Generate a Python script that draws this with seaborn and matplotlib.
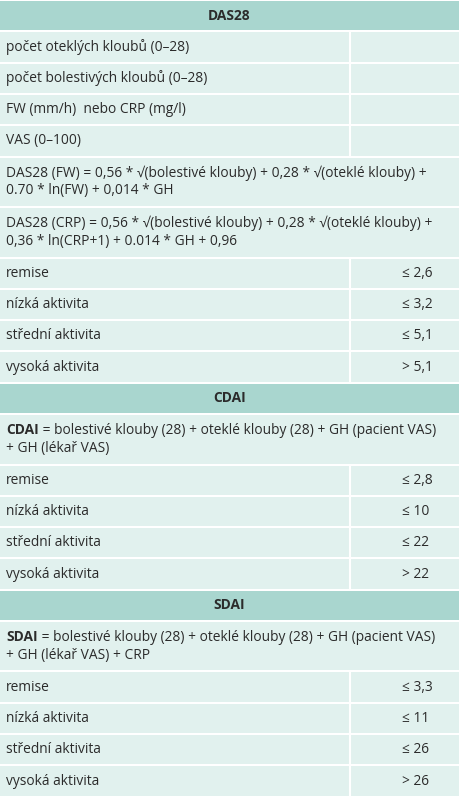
import matplotlib
matplotlib.use("Agg")
import matplotlib.pyplot as plt
import seaborn as sns

# Table content
sections = ["DAS28", "CDAI", "SDAI"]
das28_rows = [
    "počet oteklých kloubů (0–28)",
    "počet bolestivých kloubů (0–28)",
    "FW (mm/h)  nebo CRP (mg/l)",
    "VAS (0–100)",
]
das28_formulas = [
    "DAS28 (FW) = 0,56 * √(bolestivé klouby) + 0,28 * √(oteklé klouby) +\n0.70 * ln(FW) + 0,014 * GH",
    "DAS28 (CRP) = 0,56 * √(bolestivé klouby) + 0,28 * √(oteklé klouby) +\n0,36 * ln(CRP+1) + 0.014 * GH + 0,96",
]
cdai_formula = ("CDAI", " = bolestivé klouby (28) + oteklé klouby (28) + GH (pacient VAS)\n+ GH (lékař VAS)")
sdai_formula = ("SDAI", " = bolestivé klouby (28) + oteklé klouby (28) + GH (pacient VAS)\n+ GH (lékař VAS) + CRP")
activity = ["remise", "nízká aktivita", "střední aktivita", "vysoká aktivita"]
das28_cut = ["≤ 2,6", "≤ 3,2", "≤ 5,1", "> 5,1"]
cdai_cut = ["≤ 2,8", "≤ 10", "≤ 22", "> 22"]
sdai_cut = ["≤ 3,3", "≤ 11", "≤ 26", "> 26"]

sns.set_theme(style="white")
plt.rcParams["font.family"] = ["Open Sans", "DejaVu Sans"]

# build rows: (kind, text, value)
rows = [("head", "DAS28", None)]
rows += [("cell", t, "") for t in das28_rows]
rows += [("wide", t, None) for t in das28_formulas]
rows += [("cell", a, c) for a, c in zip(activity, das28_cut)]
rows += [("head", "CDAI", None), ("bold", cdai_formula, None)]
rows += [("cell", a, c) for a, c in zip(activity, cdai_cut)]
rows += [("head", "SDAI", None), ("bold", sdai_formula, None)]
rows += [("cell", a, c) for a, c in zip(activity, sdai_cut)]

W, H = 468, 800
table_w, split = 459, 350
single, double = 31.3, 50.5
head_c, row_c, text_c = "#a9d6cf", "#e1f1ee", "#2b2b2b"
fs = 9.9

fig = plt.figure(figsize=(W / 100, H / 100), dpi=100)
ax = fig.add_axes([0, 0, 1, 1])
ax.set_xlim(0, W)
ax.set_ylim(H, 0)
ax.axis("off")

y = 0
for kind, text, val in rows:
    h = double if kind in ("wide", "bold") else single
    color = head_c if kind == "head" else row_c
    ax.barh(y + h / 2, table_w, height=h - 2, left=0, color=color, linewidth=0)
    yc = y + h / 2
    if kind == "head":
        ax.text(table_w / 2, yc, text, ha="center", va="center", fontsize=fs,
                fontweight="bold", color=text_c)
    elif kind == "cell":
        ax.plot([split, split], [y, y + h], color="white", lw=1.5)
        ax.text(6, yc, text, ha="left", va="center", fontsize=fs, color=text_c)
        ax.text(split + 52, yc, val, ha="left", va="center", fontsize=fs, color=text_c)
    elif kind == "wide":
        ax.text(6, yc, text, ha="left", va="center", fontsize=fs, color=text_c,
                linespacing=1.25)
    else:
        bold, rest = text
        t = ax.text(6, yc - 9, bold, ha="left", va="center", fontsize=fs,
                    fontweight="bold", color=text_c)
        fig.canvas.draw()
        bb = t.get_window_extent()
        x2 = bb.x1 / fig.dpi * 100
        first, second = rest.split("\n")
        ax.text(x2, yc - 9, first, ha="left", va="center", fontsize=fs, color=text_c)
        ax.text(6, yc + 9, second, ha="left", va="center", fontsize=fs, color=text_c)
    y += h

fig.savefig("out.png", dpi=100, facecolor="white")
